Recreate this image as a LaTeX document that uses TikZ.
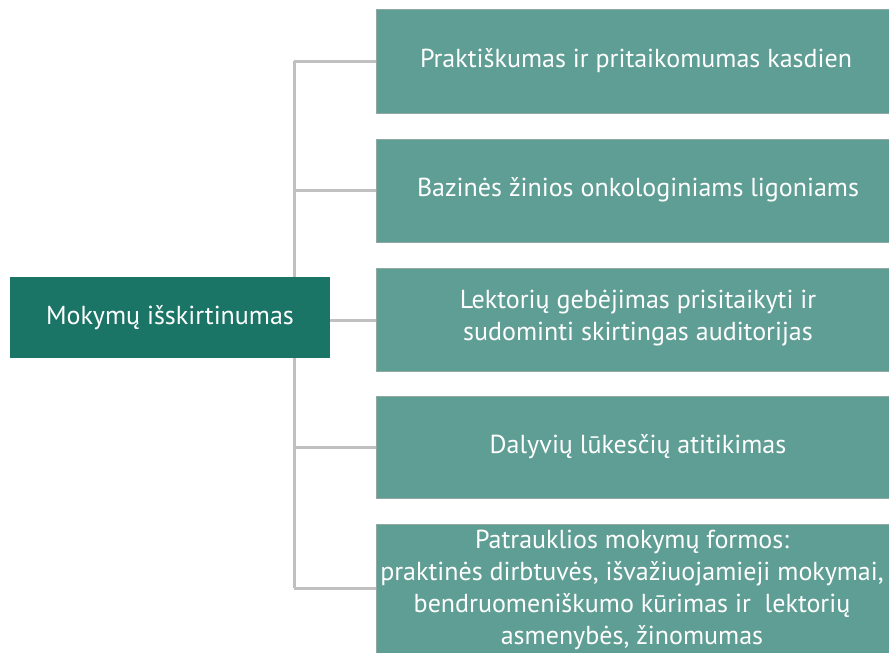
\documentclass[tikz,border=0pt]{standalone}
\usepackage{fontspec}
\setmainfont{PT Sans}
\definecolor{maincol}{HTML}{1B7567}
\definecolor{boxcol}{HTML}{5F9E94}
\definecolor{linecol}{HTML}{C0C0C0}
\definecolor{edgecol}{HTML}{8FA8A4}
\begin{document}
\begin{tikzpicture}[x=1pt,y=-1pt,
  mainbox/.style={text=white,inner sep=0pt,font=\fontsize{26}{31}\selectfont},
  itembox/.style={fill=boxcol,draw=edgecol,line width=0.8pt},
  itemtext/.style={text=white,align=center,font=\fontsize{26}{32}\selectfont},
  conn/.style={draw=linecol,line width=3pt}]
\useasboundingbox (0,0) rectangle (889,653);
\clip (0,0) rectangle (889,653);
% connectors
\coordinate (j1) at (294,61);
\coordinate (j2) at (294,190);
\coordinate (j3) at (294,320);
\coordinate (j4) at (294,447);
\coordinate (j5) at (294,588);
\draw[conn] (j1) -- (j5);
% boxes
\path[itembox] (376,9) rectangle (890,113);
\path[itembox] (376,139) rectangle (890,242);
\path[itembox] (376,268) rectangle (890,371);
\path[itembox] (376,396) rectangle (890,498);
\path[itembox] (376,524) rectangle (890,660);
\coordinate (b1) at (376,61);
\coordinate (b2) at (376,190);
\coordinate (b3) at (376,320);
\coordinate (b4) at (376,447);
\coordinate (b5) at (376,588);
\draw[conn] (j1) -- (b1);
\draw[conn] (j2) -- (b2);
\draw[conn] (j3) -- (b3);
\draw[conn] (j4) -- (b4);
\draw[conn] (j5) -- (b5);
\path[fill=maincol] (10,277) rectangle (330,358);
\node[mainbox] (main) at (170,317.5) {Mokymų išskirtinumas};
\node[itemtext] (t1) at (636,61) {Praktiškumas ir pritaikomumas kasdien};
\node[itemtext] (t2) at (638,190) {Bazinės žinios onkologiniams ligoniams};
\node[itemtext] (t3) at (638,318) {Lektorių gebėjimas prisitaikyti ir\\sudominti skirtingas auditorijas};
\node[itemtext] (t4) at (638,447) {Dalyvių lūkesčių atitikimas};
\node[itemtext] (t5) at (632,590) {Patrauklios mokymų formos:\\praktinės dirbtuvės, išvažiuojamieji mokymai,\\bendruomeniškumo kūrimas ir\ \ lektorių\\asmenybės, žinomumas};
\end{tikzpicture}
\end{document}
